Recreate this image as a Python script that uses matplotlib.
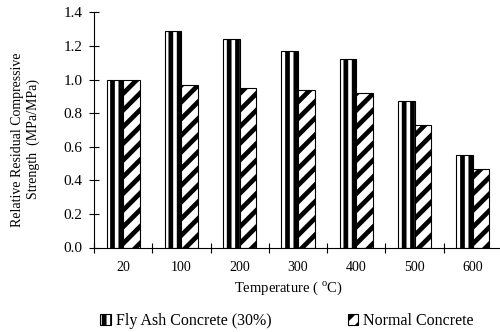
import matplotlib
matplotlib.use("Agg")
import matplotlib.pyplot as plt
import numpy as np
from matplotlib.ticker import FixedLocator, NullFormatter

temps = ["20", "100", "200", "300", "400", "500", "600"]
fly_ash = [1.00, 1.29, 1.24, 1.17, 1.12, 0.87, 0.55]
normal = [1.00, 0.97, 0.95, 0.94, 0.92, 0.73, 0.47]
series_names = ["Fly Ash Concrete (30%)", "Normal Concrete"]
yticks = [0.0, 0.2, 0.4, 0.6, 0.8, 1.0, 1.2, 1.4]

plt.rcParams['font.family'] = ['Liberation Serif', 'DejaVu Serif']
plt.rcParams['mathtext.fontset'] = 'custom'
plt.rcParams['mathtext.rm'] = 'Liberation Serif'
plt.rcParams['hatch.linewidth'] = 3.4

fig = plt.figure(figsize=(5.0, 3.32), dpi=100)
ax = fig.add_axes([94/500, (332-247.5)/332, 408/500, (247.5-12.4)/332])

x = np.arange(len(temps))
w = 0.285
b1 = ax.bar(x - w/2, fly_ash, w, facecolor='white', edgecolor='black', hatch='||',
            linewidth=0.8, label=series_names[0])
b2 = ax.bar(x + w/2, normal, w, facecolor='white', edgecolor='black', hatch='//',
            linewidth=0.8, label=series_names[1])

ax.set_xlim(-0.5, len(temps) - 0.5)
ax.set_ylim(0, 1.4)
ax.set_yticks(yticks)
ax.set_yticklabels([f"{v:.1f}" for v in yticks])
ax.set_xticks(x)
ax.set_xticklabels(temps)
ax.xaxis.set_minor_locator(FixedLocator(np.arange(-0.5, len(temps), 1.0)))
ax.xaxis.set_minor_formatter(NullFormatter())
ax.tick_params(axis='x', which='major', length=0, pad=10, labelsize=10)
ax.tick_params(axis='x', which='minor', direction='inout', length=7.2, width=0.8)
ax.tick_params(axis='y', direction='inout', length=7.0, width=0.8, pad=5, labelsize=11)

for s in ['top', 'right']:
    ax.spines[s].set_visible(False)
for s in ['left', 'bottom']:
    ax.spines[s].set_linewidth(0.8)

ax.set_xlabel(r"Temperature ( $^{\mathrm{o}}$C)", fontsize=10.5)
ax.xaxis.set_label_coords((288-94)/408, -0.135)
ax.set_ylabel("Relative Residual Compressive\nStrength  (MPa/MPa)", fontsize=10, linespacing=1.25)
ax.yaxis.set_label_coords(-0.132, 0.46)

fig.legend(handles=[b1, b2], labels=series_names, loc='center', bbox_to_anchor=(0.574, 0.033),
           ncol=2, frameon=False, fontsize=11.5, handlelength=0.65, handleheight=0.65,
           handletextpad=0.3, columnspacing=4.8, borderaxespad=0)

fig.savefig("out.png", dpi=100)
